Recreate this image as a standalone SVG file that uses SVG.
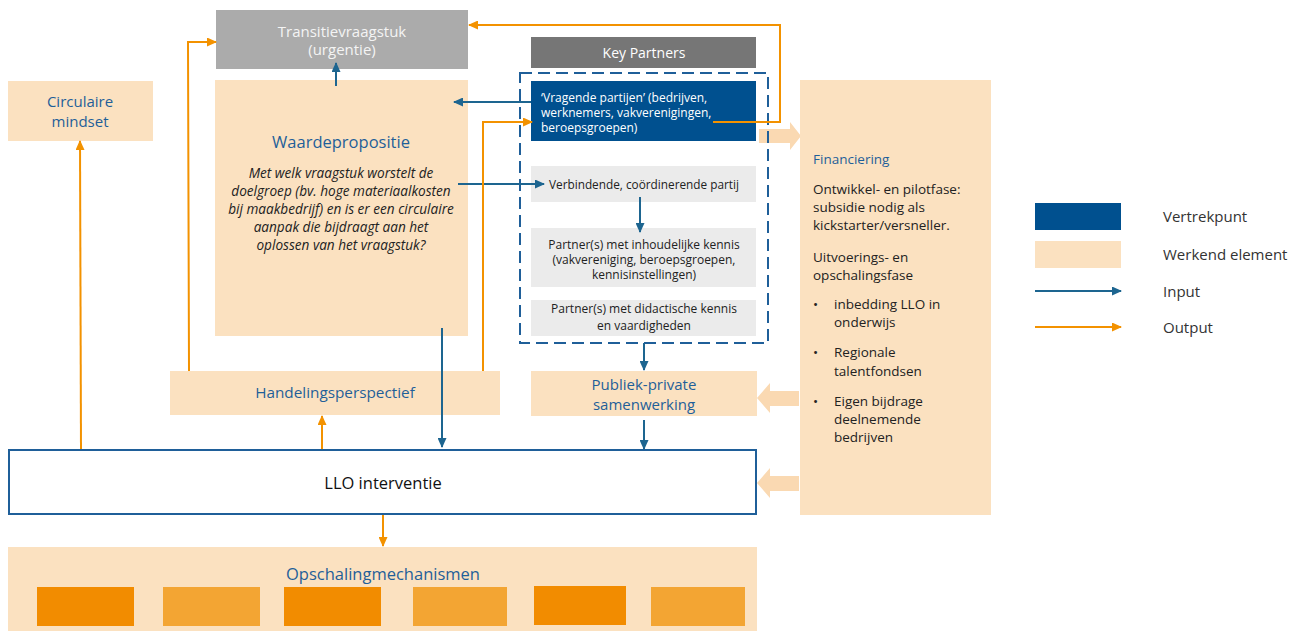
<svg xmlns="http://www.w3.org/2000/svg" width="1301" height="631" viewBox="0 0 1301 631">
<style>
text{font-family:"Open Sans","Noto Sans","Liberation Sans",sans-serif}
.work{fill:#FBE1C0}
.gray{fill:#EBEBEB}
.title{fill:#1F5F99;text-anchor:middle}
.c{text-anchor:middle}
.dark{fill:#222}
.in{stroke:#1D6590;stroke-width:2;fill:none}
.out{stroke:#F39200;stroke-width:2;fill:none}
.fat{fill:#FAD9B2}
</style>
<defs>
<marker id="ai" markerWidth="10" markerHeight="9" refX="9" refY="4.5" orient="auto" markerUnits="userSpaceOnUse"><path d="M0,0 L10,4.5 L0,9 z" fill="#1D6590"/></marker>
<marker id="ao" markerWidth="10" markerHeight="9" refX="9" refY="4.5" orient="auto" markerUnits="userSpaceOnUse"><path d="M0,0 L10,4.5 L0,9 z" fill="#F39200"/></marker>
</defs>
<rect width="1301" height="631" fill="#fff"/>

<g id="fat-arrows">
<polygon class="fat" points="759,129 790,129 790,122 801,136 790,150 790,143 759,143"/>
<polygon class="fat" points="757,398 770,383 770,391 799,391 799,406 770,406 770,413"/>
<polygon class="fat" points="757,483 770,468 770,476 799,476 799,491 770,491 770,498"/>
</g>

<g id="transitievraagstuk">
<rect x="216" y="10" width="252" height="59" fill="#ABABAB"/>
<text x="342" y="37" class="c" font-size="15" fill="#F4F4F4">Transitievraagstuk</text>
<text x="342" y="55" class="c" font-size="15" fill="#F4F4F4">(urgentie)</text>
</g>

<g id="circulaire-mindset">
<rect class="work" x="8" y="81" width="145" height="60"/>
<text x="80" y="107" class="title" font-size="15">Circulaire</text>
<text x="80" y="127" class="title" font-size="15">mindset</text>
</g>

<g id="waardepropositie">
<rect class="work" x="215" y="80" width="253" height="256"/>
<text x="341" y="148" class="title" font-size="16.5">Waardepropositie</text>
<g class="c dark" font-size="13.6" font-style="italic">
<text x="341" y="178">Met welk vraagstuk worstelt de</text>
<text x="341" y="196">doelgroep (bv. hoge materiaalkosten</text>
<text x="341" y="214">bij maakbedrijf) en is er een circulaire</text>
<text x="341" y="232">aanpak die bijdraagt aan het</text>
<text x="341" y="250">oplossen van het vraagstuk?</text>
</g>
</g>

<g id="key-partners">
<rect x="531" y="37" width="225" height="31" fill="#767676"/>
<text x="644" y="58" class="c" font-size="14" fill="#fff">Key Partners</text>
<rect x="520" y="73" width="248" height="270" fill="none" stroke="#1F5F99" stroke-width="2" stroke-dasharray="12,6"/>
</g>

<g id="vragende-partijen">
<rect x="531" y="81" width="225" height="60" fill="#00508F"/>
<g font-size="12" fill="#fff">
<text x="541" y="102">‘Vragende partijen’ (bedrijven,</text>
<text x="541" y="117">werknemers, vakverenigingen,</text>
<text x="541" y="132">beroepsgroepen)</text>
</g>
</g>

<g id="verbindende-partij">
<rect class="gray" x="531" y="166" width="225" height="36"/>
<text x="644" y="189" class="c dark" font-size="11.8">Verbindende, coördinerende partij</text>
</g>

<g id="inhoudelijke-kennis">
<rect class="gray" x="531" y="228" width="225" height="59"/>
<g class="c dark" font-size="12">
<text x="644" y="249">Partner(s) met inhoudelijke kennis</text>
<text x="644" y="264">(vakvereniging, beroepsgroepen,</text>
<text x="644" y="279">kennisinstellingen)</text>
</g>
</g>

<g id="didactische-kennis">
<rect class="gray" x="531" y="300" width="225" height="36"/>
<g class="c dark" font-size="12">
<text x="644" y="313">Partner(s) met didactische kennis</text>
<text x="644" y="330">en vaardigheden</text>
</g>
</g>

<g id="handelingsperspectief">
<rect class="work" x="170" y="371" width="330" height="44"/>
<text x="335" y="398" class="title" font-size="15.3">Handelingsperspectief</text>
</g>

<g id="publiek-private">
<rect class="work" x="531" y="371" width="226" height="45"/>
<text x="644" y="390" class="title" font-size="15">Publiek-private</text>
<text x="644" y="410" class="title" font-size="15">samenwerking</text>
</g>

<g id="llo-interventie">
<rect x="9" y="450" width="747" height="64" fill="#fff" stroke="#1F5F99" stroke-width="2"/>
<text x="383" y="489" class="c" font-size="16.5" fill="#111">LLO interventie</text>
</g>

<g id="opschalingmechanismen">
<rect class="work" x="8" y="547" width="749" height="84"/>
<text x="383" y="580" class="title" font-size="16.5">Opschalingmechanismen</text>
<rect x="37" y="587" width="97" height="39" fill="#F28C00"/>
<rect x="163" y="587" width="97" height="39" fill="#F3A533"/>
<rect x="284" y="587" width="97" height="39" fill="#F28C00"/>
<rect x="413" y="587" width="94" height="39" fill="#F3A533"/>
<rect x="534" y="586" width="92" height="39" fill="#F28C00"/>
<rect x="651" y="587" width="94" height="39" fill="#F3A533"/>
</g>

<g id="financiering">
<rect class="work" x="800" y="80" width="191" height="435"/>
<text x="813" y="164" font-size="13.5" fill="#1F5F99">Financiering</text>
<g font-size="13.5" fill="#222">
<text x="813" y="194">Ontwikkel- en pilotfase:</text>
<text x="813" y="212">subsidie nodig als</text>
<text x="813" y="230">kickstarter/versneller.</text>
<text x="813" y="262">Uitvoerings- en</text>
<text x="813" y="280">opschalingsfase</text>
<text x="813" y="309">•</text>
<text x="834" y="309">inbedding LLO in</text>
<text x="834" y="327">onderwijs</text>
<text x="813" y="357">•</text>
<text x="834" y="357">Regionale</text>
<text x="834" y="376">talentfondsen</text>
<text x="813" y="406">•</text>
<text x="834" y="406">Eigen bijdrage</text>
<text x="834" y="424">deelnemende</text>
<text x="834" y="442">bedrijven</text>
</g>
</g>

<g id="legend">
<rect x="1035" y="203" width="86" height="27" fill="#00508F"/>
<rect class="work" x="1035" y="241" width="86" height="27"/>
<line class="in" x1="1035" y1="291" x2="1121" y2="291" marker-end="url(#ai)"/>
<line class="out" x1="1035" y1="327" x2="1121" y2="327" marker-end="url(#ao)"/>
<g font-size="15" fill="#333">
<text x="1163" y="222">Vertrekpunt</text>
<text x="1163" y="260">Werkend element</text>
<text x="1163" y="297">Input</text>
<text x="1163" y="333">Output</text>
</g>
</g>

<g id="connectors">
<line class="in" x1="336" y1="86" x2="336" y2="63" marker-end="url(#ai)"/>
<line class="in" x1="531" y1="102" x2="454" y2="102" marker-end="url(#ai)"/>
<line class="in" x1="458" y1="184" x2="544" y2="184" marker-end="url(#ai)"/>
<line class="in" x1="640" y1="197" x2="640" y2="232" marker-end="url(#ai)"/>
<line class="in" x1="644" y1="343" x2="644" y2="370" marker-end="url(#ai)"/>
<line class="in" x1="644" y1="420" x2="644" y2="449" marker-end="url(#ai)"/>
<line class="in" x1="442" y1="328" x2="442" y2="447" marker-end="url(#ai)"/>
<line class="out" x1="81" y1="449" x2="80" y2="141" marker-end="url(#ao)"/>
<line class="out" x1="322" y1="449" x2="322" y2="416" marker-end="url(#ao)"/>
<polyline class="out" points="189,371 188,42 216,42" marker-end="url(#ao)"/>
<polyline class="out" points="483,371 483,122 532,122" marker-end="url(#ao)"/>
<polyline class="out" points="713,122 780,122 780,25 469,25" marker-end="url(#ao)"/>
<line class="out" x1="383" y1="515" x2="383" y2="546" marker-end="url(#ao)"/>
</g>
</svg>
